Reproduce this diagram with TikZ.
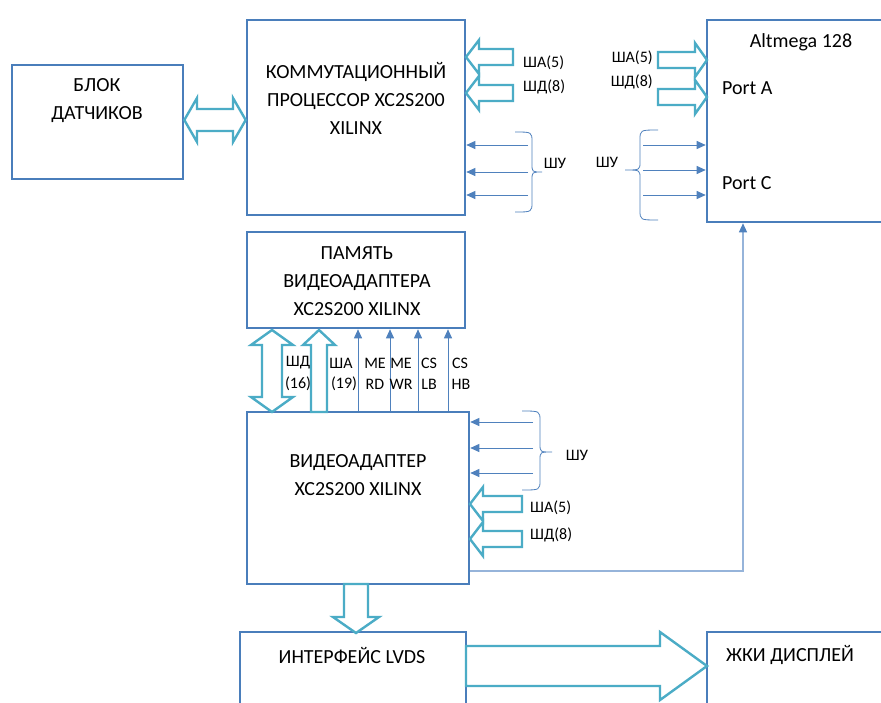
\documentclass[tikz,border=0pt]{standalone}
\usepackage{fontspec}
\setmainfont{Carlito}
\usetikzlibrary{arrows.meta}
\definecolor{boxc}{RGB}{74,126,187}
\definecolor{barc}{RGB}{75,172,198}
\definecolor{linec}{RGB}{79,129,189}
\definecolor{lightl}{RGB}{150,180,218}
\newcommand\harr[6]{\draw[barrow] (#1,#4) -- (#2,#4-#6) -- (#2,#4-#5) -- (#3,#4-#5) -- (#3,#4+#5) -- (#2,#4+#5) -- (#2,#4+#6) -- cycle;}
\newcommand\varr[6]{\draw[barrow] (#1,#2) -- (#1-#6,#3) -- (#1-#5,#3) -- (#1-#5,#4) -- (#1+#5,#4) -- (#1+#5,#3) -- (#1+#6,#3) -- cycle;}
\newcommand\mybrace[6]{\draw[brc] (#1,#4) .. controls (#2,#4) .. (#2,#4+10) -- (#2,#5-8) .. controls (#2,#5) .. (#3,#5) .. controls (#2,#5) .. (#2,#5+8) -- (#2,#6-10) .. controls (#2,#6) .. (#1,#6);}
\begin{document}
\begin{tikzpicture}[x=1pt,y=-1pt,
  box/.style={draw=boxc, line width=2.6pt, fill=white, inner sep=0pt},
  barrow/.style={draw=barc, line width=2.4pt, fill=white, line join=miter},
  sig/.style={draw=linec, line width=0.9pt, -{Triangle[length=9pt,width=8pt]}},
  brc/.style={draw=linec, line width=0.8pt},
  txt/.style={font=\fontsize{20}{28}\selectfont, align=center, inner sep=0pt},
  lbl/.style={font=\fontsize{16}{20}\selectfont, inner sep=0pt},
]
\useasboundingbox (0,0) rectangle (881,702);
\clip (0,0) rectangle (881,702);
\fill[white] (0,0) rectangle (881,702);
% boxes
\node[box, minimum width=171pt, minimum height=114pt] (blok) at (97.5,122) {};
\node[box, minimum width=218pt, minimum height=195pt] (komm) at (356,117.5) {};
\node[box, minimum width=218pt, minimum height=96pt] (pam) at (356,280) {};
\node[box, minimum width=222pt, minimum height=172pt] (video) at (358,498) {};
\node[box, minimum width=200pt, minimum height=202pt] (atm) at (807,121) {};
\node[box, minimum width=226pt, minimum height=100pt] (lvds) at (353,682) {};
\node[box, minimum width=200pt, minimum height=100pt] (lcd) at (807,682) {};
% texts
\node[txt] (blokt) at (97,101) {БЛОК\\ДАТЧИКОВ};
\node[txt] (kommt) at (356,98.5) {КОММУТАЦИОННЫЙ\\ПРОЦЕССОР XC2S200\\XILINX};
\node[txt] (pamt) at (357,281) {ПАМЯТЬ\\ВИДЕОАДАПТЕРА\\XC2S200 XILINX};
\node[txt] (videot) at (358,475.5) {ВИДЕОАДАПТЕР\\XC2S200 XILINX};
\node[txt] (lvdst) at (352,655) {ИНТЕРФЕЙС LVDS};
\node[txt] (lcdt) at (790,655) {ЖКИ ДИСПЛЕЙ};
\node[txt] (atmt) at (801,42) {Altmega 128};
\node[txt, anchor=west] (porta) at (722,88) {Port A};
\node[txt, anchor=west] (portc) at (722,183) {Port C};
% block arrows
\draw[barrow] (blok.east |- 0,120) -- (197,98) -- (197,109) -- (233,109) -- (233,98) -- (komm.west |- 0,120) -- (233,142) -- (233,131) -- (197,131) -- (197,142) -- cycle;
\harr{466}{479}{513}{57}{8}{17}
\harr{466}{479}{513}{93}{8}{17}
\harr{707}{695}{658}{60}{8}{17}
\harr{707}{695}{658}{97}{8}{17}
\harr{470}{483}{522}{504}{8}{17}
\harr{470}{483}{522}{539}{8}{17}
\draw[barrow] (272,330) -- (293,345) -- (282,345) -- (282,397) -- (293,397) -- (272,412) -- (251,397) -- (262,397) -- (262,345) -- (251,345) -- cycle;
\varr{319}{330}{345}{412}{8}{16}
\varr{356}{633}{617}{584}{12}{23}
\harr{707}{660}{466}{666}{20}{34}
% thin arrows
\foreach \y in {145,172,195} \draw[sig] (528,\y) -- (komm.east |- 0,\y);
\foreach \y in {145,170,195} \draw[sig] (643,\y) -- (atm.west |- 0,\y);
\foreach \y in {422,448,473} \draw[sig] (533,\y) -- (video.east |- 0,\y);
\foreach \x in {358,390,418,448} \draw[sig] (video.north -| \x,0) -- (pam.south -| \x,0);
% braces
\mybrace{515}{532}{542}{132}{172}{212}
\mybrace{522}{540}{552}{411}{452}{490}
\mybrace{658}{640}{625}{130}{170}{220}
% feedback line
\draw[draw=lightl, line width=1.2pt, -{Triangle[length=9pt,width=8pt,color=linec]}] (video.east |- 0,571) -- (743,571) -- (atm.south -| 743,0);
% labels
\node[lbl, anchor=west] (l1) at (523,63) {ША(5)};
\node[lbl, anchor=west] (l2) at (523,87) {ШД(8)};
\node[lbl] (l3) at (555,163) {ШУ};
\node[lbl, anchor=east] (l4) at (653,58) {ША(5)};
\node[lbl, anchor=east] (l5) at (653,82) {ШД(8)};
\node[lbl] (l6) at (607,162) {ШУ};
\node[lbl] (l7) at (577,455) {ШУ};
\node[lbl, anchor=west] (l8) at (530,508) {ША(5)};
\node[lbl, anchor=west] (l9) at (530,535) {ШД(8)};
\node[lbl] (v1) at (298,363) {ШД};
\node[lbl] (v2) at (298,384) {(16)};
\node[lbl] (v3) at (341,363) {ША};
\node[lbl] (v4) at (344,384) {(19)};
\node[lbl] (v5) at (375,363) {ME};
\node[lbl] (v6) at (375,384) {RD};
\node[lbl] (v7) at (401,363) {ME};
\node[lbl] (v8) at (401,384) {WR};
\node[lbl] (v9) at (429,363) {CS};
\node[lbl] (v10) at (429,384) {LB};
\node[lbl] (v11) at (460,363) {CS};
\node[lbl] (v12) at (461,384) {HB};
\end{tikzpicture}
\end{document}
